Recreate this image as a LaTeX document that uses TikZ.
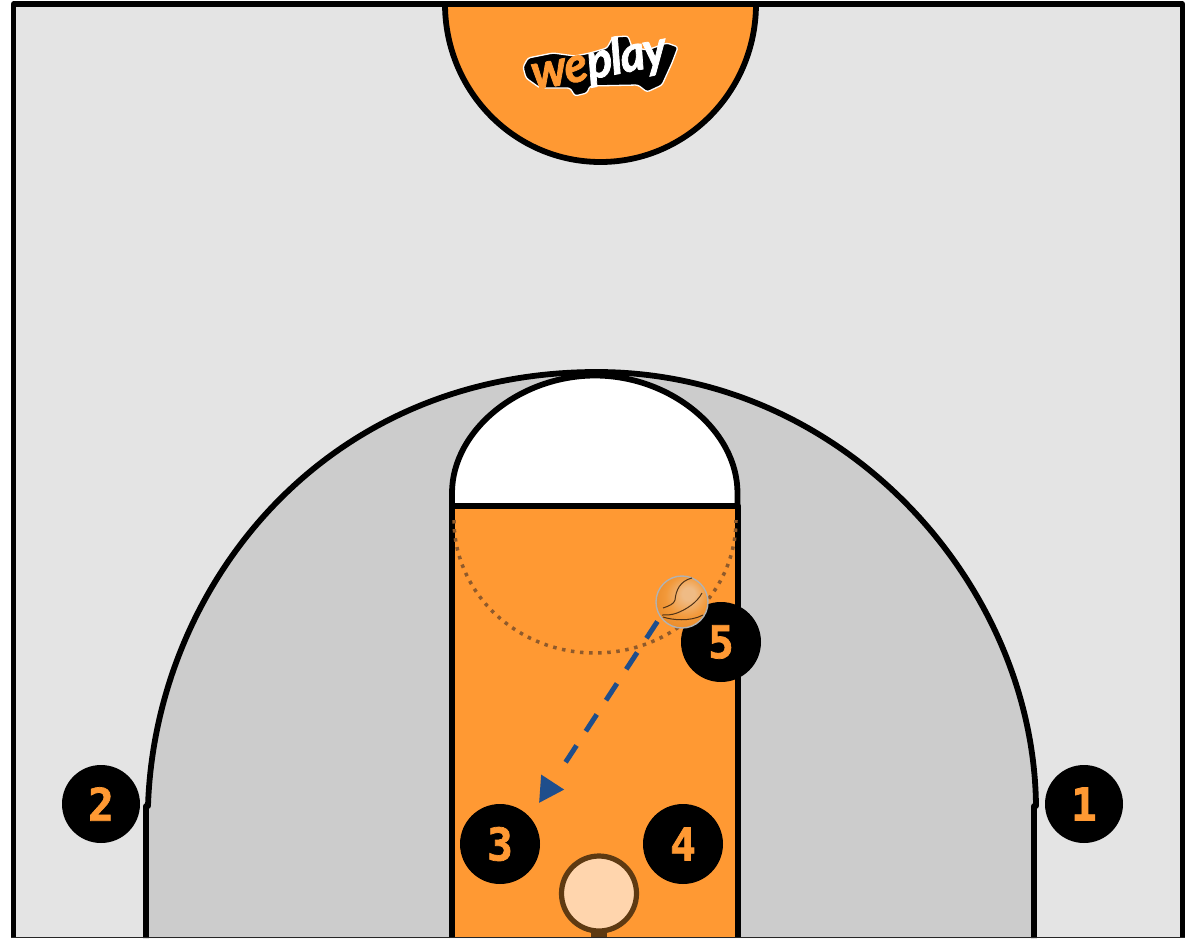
\documentclass[tikz,border=0pt]{standalone}
\usepackage{fontspec}
\usetikzlibrary{arrows.meta}
\newfontfamily\numfont{DejaVu Sans Mono}[FakeStretch=0.95,FakeBold=1.6]
\newfontfamily\logofont{Lato}[FakeStretch=0.95]
\definecolor{courtgray}{HTML}{E4E4E4}
\definecolor{zonegray}{HTML}{CCCCCC}
\definecolor{courtorange}{HTML}{FF9933}
\definecolor{hoopbrown}{HTML}{5E3A12}
\definecolor{hoopfill}{HTML}{FFD5AD}
\definecolor{dotbrown}{HTML}{8F5A2B}
\definecolor{passblue}{HTML}{1F4E8C}
\definecolor{ballbrown}{HTML}{4F3216}
\definecolor{ballcentre}{HTML}{EFBB85}
\definecolor{ballmid}{HTML}{F2993A}
\definecolor{ballrim}{HTML}{E07A14}
\pgfdeclareradialshading{ballshade}{\pgfpoint{7bp}{9bp}}{color(0bp)=(ballcentre);color(6bp)=(ballcentre);color(20bp)=(ballmid);color(45bp)=(ballrim);color(50bp)=(ballrim)}
\tikzset{
  court/.style={draw=black,line width=5.8pt,line join=round},
  player/.style={circle,fill=black,inner sep=0pt,minimum size=78pt,text=courtorange,font=\numfont\bfseries\fontsize{45}{45}\selectfont},
  pass/.style={draw=passblue,line width=5pt,dash pattern=on 20pt off 17pt on 20pt off 17pt on 20pt off 17pt on 20pt off 17pt on 20pt off 60pt,-{Triangle[length=25pt,width=26pt]},shorten <=5pt},
  balllines/.style={draw=ballbrown,line width=1pt},
}
\begin{document}
\begin{tikzpicture}[x=1pt,y=-1pt]
\useasboundingbox (0,0) rectangle (1187,938);
\fill[white] (0,0) rectangle (1187,938);
\fill[courtgray] (13.5,4) rectangle (1182.5,938);
% three-point zone
\path[court,fill=zonegray] (146,938) -- (146,806) -- (148,806)
  .. controls (155,590) and (320,372) .. (597,372)
  .. controls (845,372) and (1034,585) .. (1036,806)
  -- (1034,806) -- (1034,938);
% top half circle
\path[court,fill=courtorange] (445,4) arc[start angle=180,end angle=360,x radius=155.5pt,y radius=158pt];
% logo
\path[fill=black,draw=white,line width=1.3pt,rounded corners=2.5pt]
  (523,67) -- (528,58) -- (553,53) -- (575,56) -- (590,53) -- (607,48) -- (613,37) -- (628,36) -- (632,47) -- (647,50) -- (667,43) -- (678,47) -- (672,63) -- (662,85) -- (647,92) -- (638,85) -- (590,86) -- (587,93) -- (575,96) -- (570,88) -- (540,88) -- (526,78) -- cycle;
\node[inner sep=0pt,rotate=11,font=\logofont\bfseries\itshape\fontsize{50}{50}\selectfont] (logo) at (599,63) {\addfontfeature{FakeBold=1.5,LetterSpace=-3}\textcolor{courtorange}{we}\textcolor{white}{play}};
% key
\path[court,fill=white] (452,506) -- (452,493)
  .. controls (452,430) and (520,375.5) .. (595,375.5)
  .. controls (670,375.5) and (737.5,430) .. (737.5,493)
  -- (737.5,506) -- cycle;
\path[court,fill=courtorange] (452,938) -- (452,506) -- (738,506) -- (738,938);
\draw[dotbrown,line width=3.5pt,dash pattern=on 3.5pt off 5.6pt] (454,520) arc[start angle=180,end angle=360,x radius=141pt,y radius=133pt];
% hoop
\fill[hoopbrown] (591,928) rectangle (607,938);
\node[circle,draw=hoopbrown,fill=hoopfill,line width=5.2pt,minimum size=75pt,inner sep=0pt] (hoop) at (599,893.5) {};
% frame
\draw[black,line width=5.4pt,line join=round] (13.5,938) -- (13.5,4) -- (1182.5,4) -- (1182.5,938);
\fill[black!85] (11,936.6) rectangle (1185,938);
% players
\node[player] (p1) at (1084,804) {1};
\node[player] (p2) at (101,804) {2};
\node[player,minimum size=80pt] (p3) at (500,844) {3};
\node[player,minimum size=80pt] (p4) at (683,844) {4};
\node[player,minimum size=80pt] (p5) at (721,642) {5};
% ball
\node[circle,draw=white!70!black,line width=1.4pt,minimum size=52pt,inner sep=0pt,shading=ballshade] (ball) at (682,602) {};
\draw[balllines] (692,578) .. controls (680,581) and (676,590) .. (675,600) .. controls (674,604) and (669,606) .. (663,608);
\draw[balllines] (702,593) .. controls (697,603) and (685,610) .. (677,613) .. controls (672,615) and (667,615) .. (662,615);
\draw[balllines] (663,617) .. controls (672,620) and (690,622) .. (703,615);
% pass
\coordinate (target) at (539,803);
\draw[pass] (ball.215) -- (target);
\end{tikzpicture}
\end{document}
